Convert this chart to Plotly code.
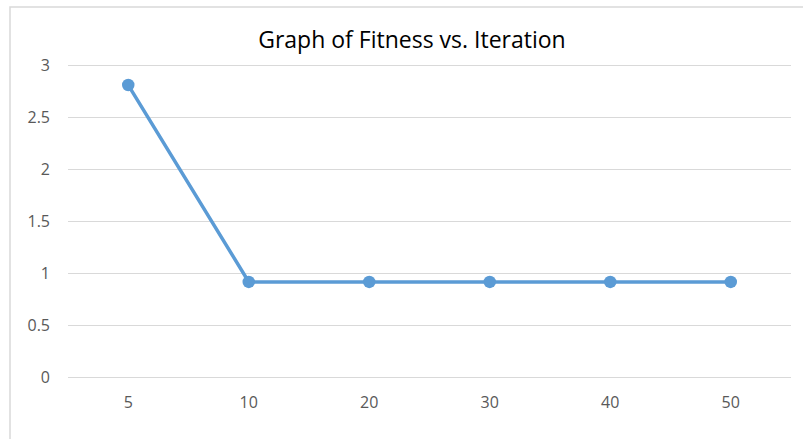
import plotly.graph_objects as go

iterations = ["5", "10", "20", "30", "40", "50"]
fitness = [2.81, 0.92, 0.92, 0.92, 0.92, 0.92]
y_ticks = [0, 0.5, 1, 1.5, 2, 2.5, 3]
y_tick_labels = ["0", "0.5", "1", "1.5", "2", "2.5", "3"]

W, H = 803, 439
L, R, T, B = 68, 12, 64, 60

fig = go.Figure()
fig.add_trace(go.Scatter(
    x=iterations, y=fitness, mode="lines+markers",
    line=dict(color="#5B9BD5", width=3.5),
    marker=dict(color="#5B9BD5", size=12.5),
    showlegend=False,
))

pw = W - L - R
ph = H - T - B
fig.add_shape(type="rect", xref="paper", yref="paper",
              x0=(10 - L) / pw, x1=1.2, y0=-0.6, y1=1 + (T - 7) / ph,
              line=dict(color="#d9d9d9", width=1.5), layer="below")

fig.update_layout(
    width=W, height=H,
    margin=dict(l=L, r=R, t=T, b=B),
    paper_bgcolor="white", plot_bgcolor="white",
    font=dict(family="Open Sans, sans-serif", color="#595959", size=16),
    title=dict(text="Graph of Fitness vs. Iteration", x=0.513, xanchor="center",
               y=1 - 40 / H, yanchor="middle",
               font=dict(size=23, color="#000000")),
    xaxis=dict(type="category", range=[-0.5, 5.5], showgrid=False,
               showline=False, zeroline=False, ticks="", ticklabelstandoff=12),
    yaxis=dict(range=[-0.012, 3.012], tickvals=y_ticks, ticktext=y_tick_labels,
               showgrid=True, gridcolor="#d9d9d9", gridwidth=1,
               zeroline=False, showline=False, ticks="", ticklabelstandoff=17),
)

fig.write_html("out.html", config={"displayModeBar": False},
               post_script="document.body.style.margin='0';")
